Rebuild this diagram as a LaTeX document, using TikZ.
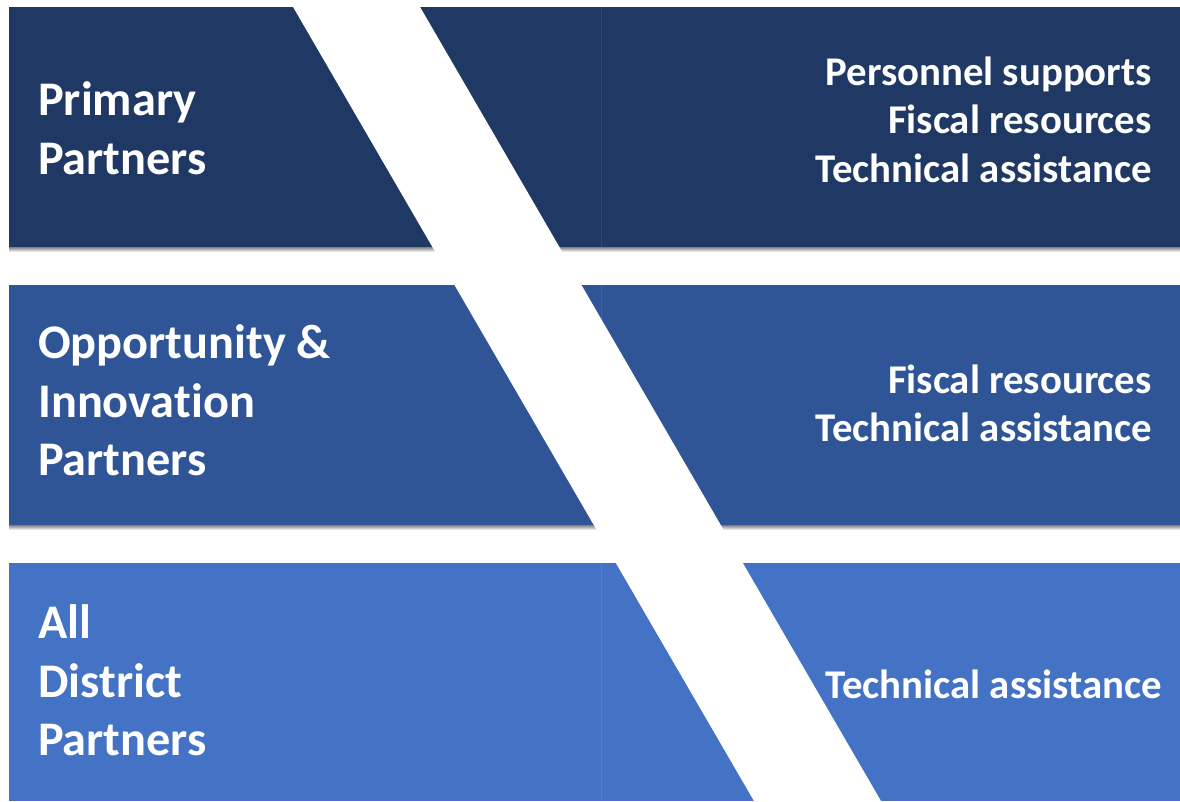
\documentclass[tikz,border=0pt]{standalone}
\usepackage{fontspec}
\setmainfont{Carlito}[Ligatures={NoCommon}]
\definecolor{bandA}{HTML}{203864}
\definecolor{bandB}{HTML}{2F5597}
\definecolor{bandC}{HTML}{4472C4}
\definecolor{shade}{HTML}{E9F0F9}
\begin{document}
\begin{tikzpicture}[x=1pt,y=-1pt,
  bigtxt/.style={text=white, font=\bfseries\fontsize{48.3}{56}\selectfont, inner sep=0pt, anchor=base west},
  smalltxt/.style={text=white, font=\bfseries\fontsize{40.8}{47}\selectfont, inner sep=0pt, anchor=base east},
  cellline/.style={line width=1pt}]
\useasboundingbox (0,0) rectangle (1180,801);
\fill[white] (0,0) rectangle (1180,801);
% bands
\fill[shade] (9,247) rectangle (1180,252);
\fill[shade] (9,525) rectangle (1180,530);
\fill[bandA] (9,7) rectangle (1180,247);
\fill[bandB] (9,285) rectangle (1180,525);
\fill[bandC] (9,563) rectangle (1180,801);
% faint cell separators
\draw[cellline, bandA!92!white] (601,7) -- (601,247);
\draw[cellline, bandB!92!white] (601,285) -- (601,525);
\draw[cellline, bandC!92!white] (601,563) -- (601,801);
% diagonal white stripe
\fill[white] (289,0) -- (416,0) -- (881,801) -- (754,801) -- cycle;
% left labels
\node[bigtxt] (p1) at (38,115) {Primary};
\node[bigtxt] (p2) at (38,174) {Partners};
\node[bigtxt] (o1) at (38,358) {Opportunity \&};
\node[bigtxt] (o2) at (38,417) {Innovation};
\node[bigtxt] (o3) at (38,475) {Partners};
\node[bigtxt] (a1) at (38,638) {All};
\node[bigtxt] (a2) at (38,697) {District};
\node[bigtxt] (a3) at (38,755) {Partners};
% right labels
\node[smalltxt] (r1) at (1152,85) {Personnel supports};
\node[smalltxt] (r2) at (1152,133) {Fiscal resources};
\node[smalltxt] (r3) at (1152,182) {Technical assistance};
\node[smalltxt] (r4) at (1152,393) {Fiscal resources};
\node[smalltxt] (r5) at (1152,441) {Technical assistance};
\node[smalltxt] (r6) at (1162,698) {Technical assistance};
\end{tikzpicture}
\end{document}
